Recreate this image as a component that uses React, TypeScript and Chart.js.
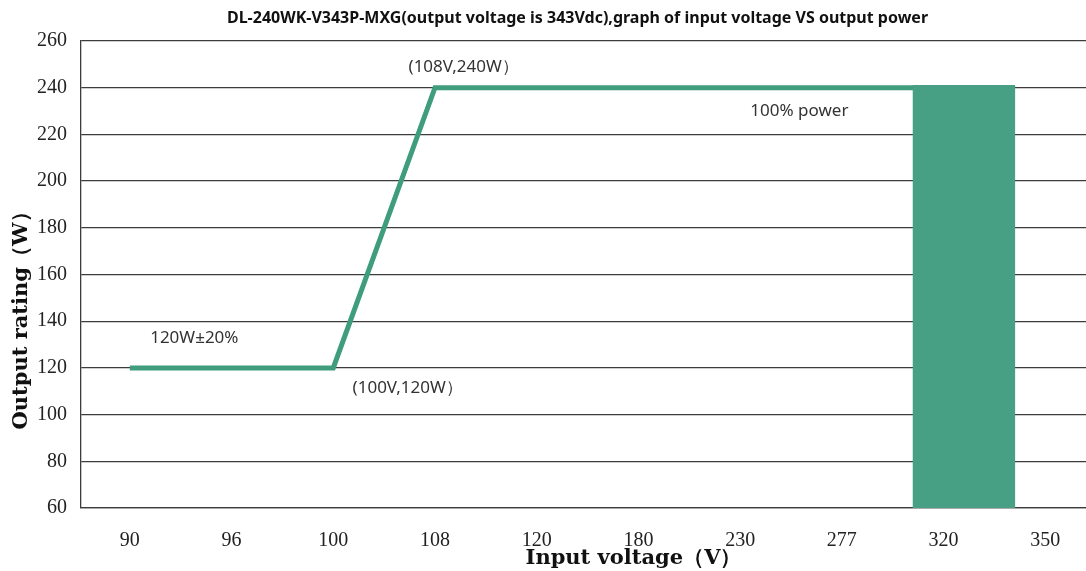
import React, { useEffect, useRef } from "react";
import { Chart, registerables } from "chart.js";

Chart.register(...registerables);

const chartTitle =
  "DL-240WK-V343P-MXG(output voltage is 343Vdc),graph of input voltage VS output power";
const xTitle = "Input voltage（V）";
const yTitle = "Output rating（W）";

// x tick labels (category index -> label)
const xTickLabels = ["90", "96", "100", "108", "120", "180", "230", "277", "320", "350"];

// power curve, x in category-index units
const lineX = [0, 2, 3, 8.2];
const lineY = [120, 120, 240, 240];

// 100% power block
const barX = [8.2];
const barY = [241];

// annotations (category-index units, watts)
const noteTexts = ["(108V,240W）", "100% power", "120W±20%", "(100V,120W）"];
const noteX = [2.74, 6.1, 0.2, 2.19];
const noteY = [248.9, 230, 132.9, 111.4];

const Y_MIN = 60;
const Y_MAX = 260;
const Y_STEP = 20;

const textPlugin = {
  id: "textPlugin",
  afterDatasetsDraw(chart: any) {
    const { ctx, chartArea, scales } = chart;
    ctx.save();
    ctx.fillStyle = "#333";
    ctx.textBaseline = "middle";
    ctx.textAlign = "left";
    ctx.font = '17px "Noto Sans"';
    noteTexts.forEach((t, i) => {
      ctx.fillText(t, scales.x.getPixelForValue(noteX[i]), scales.y.getPixelForValue(noteY[i]));
    });

    const cx = (chartArea.left + chartArea.right) / 2;
    const cy = (chartArea.top + chartArea.bottom) / 2;

    ctx.fillStyle = "#111";
    ctx.textAlign = "center";
    ctx.font = 'bold 16px "Noto Sans"';
    ctx.fillText(chartTitle, cx - 6, chartArea.top - 23);

    ctx.font = 'bold 21px "DejaVu Serif"';
    ctx.fillText(xTitle, cx + 50, chartArea.bottom + 51);

    ctx.save();
    ctx.translate(chartArea.left - 59, cy + 41);
    ctx.rotate(-Math.PI / 2);
    ctx.fillText(yTitle, 0, 0);
    ctx.restore();

    ctx.restore();
  },
};

export default function App() {
  const ref = useRef<HTMLCanvasElement | null>(null);

  useEffect(() => {
    if (!ref.current) return;
    const chart = new Chart(ref.current, {
      type: "bar",
      data: {
        datasets: [
          {
            type: "bar",
            data: barX.map((x, i) => ({ x, y: barY[i] })),
            backgroundColor: "#47a084",
            borderWidth: 0,
            categoryPercentage: 1,
            barPercentage: 1,
            order: 0,
          } as any,
          {
            type: "line",
            data: lineX.map((x, i) => ({ x, y: lineY[i] })),
            borderColor: "#3f9d7e",
            borderWidth: 5,
            pointRadius: 0,
            tension: 0,
            fill: false,
            order: 1,
          } as any,
        ],
      },
      options: {
        responsive: false,
        animation: false,
        layout: { padding: { top: 41, left: 0, right: 0, bottom: 0 } },
        plugins: {
          legend: { display: false },
          tooltip: { enabled: false },
          title: { display: false },
        },
        scales: {
          x: {
            type: "linear",
            offset: false,
            min: -0.48,
            max: 9.4,
            afterFit: (s: any) => {
              s.height = 63;
            },
            grid: { display: false, offset: false },
            border: { display: true, color: "#3c3c3c", width: 1.3 },
            ticks: {
              stepSize: 1,
              includeBounds: false,
              autoSkip: false,
              maxRotation: 0,
              padding: 13,
              color: "#222",
              font: { family: '"Liberation Serif"', size: 20 },
              callback: (v: any) => {
                const i = Math.round(Number(v));
                return Math.abs(Number(v) - i) < 1e-6 && xTickLabels[i] !== undefined ? xTickLabels[i] : "";
              },
            },
          },
          y: {
            type: "linear",
            min: Y_MIN,
            max: Y_MAX,
            afterFit: (s: any) => {
              s.width = 81;
            },
            grid: { color: "#3c3c3c", lineWidth: 1.3, drawTicks: false },
            border: { display: true, color: "#3c3c3c", width: 1.3 },
            ticks: {
              stepSize: Y_STEP,
              padding: 14,
              color: "#222",
              font: { family: '"Liberation Serif"', size: 20 },
            },
          },
        },
      },
      plugins: [textPlugin],
    });
    return () => chart.destroy();
  }, []);

  return (
    <div style={{ position: "absolute", left: 0, top: 0, width: 1086, height: 571, background: "#fff" }}>
      <canvas ref={ref} width={1086} height={571} />
    </div>
  );
}
